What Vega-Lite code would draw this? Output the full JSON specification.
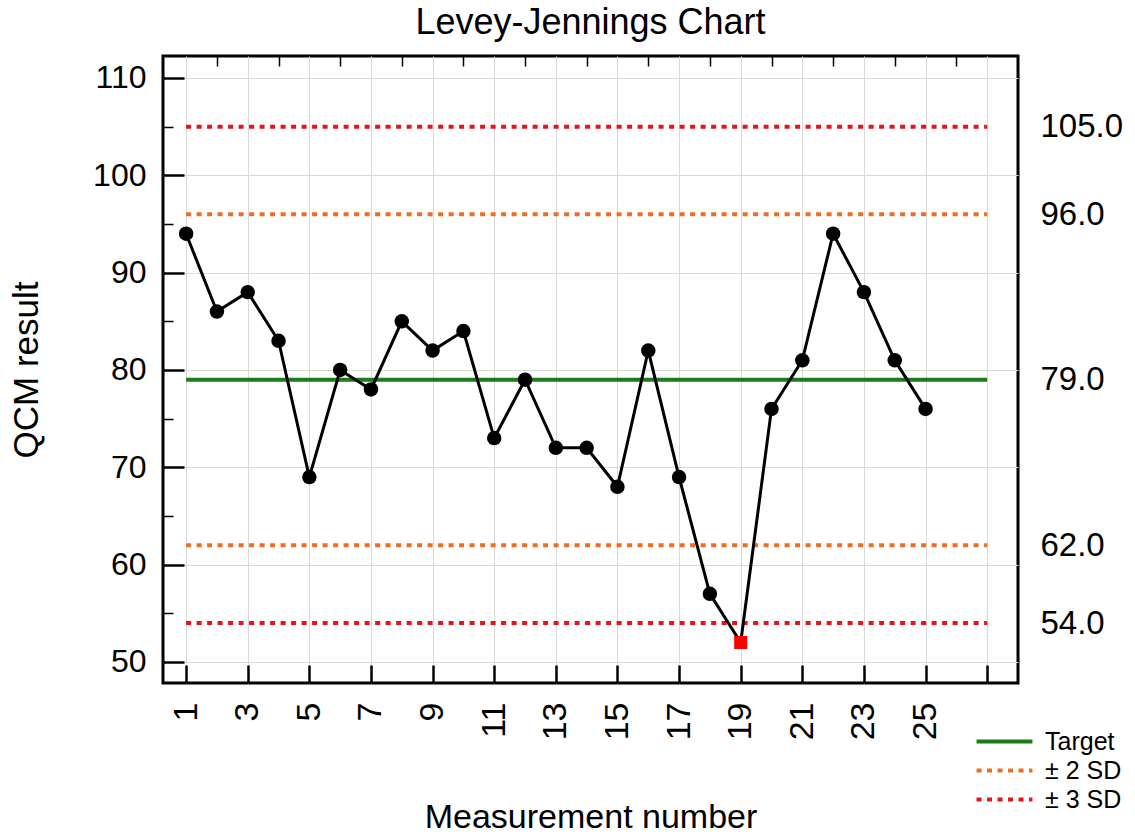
{
  "$schema": "https://vega.github.io/schema/vega-lite/v6.json",
  "width": 855,
  "height": 627,
  "autosize": "none",
  "padding": {"left": 163, "top": 56, "right": 117, "bottom": 154},
  "background": "white",
  "title": {"text": "Levey-Jennings Chart", "fontSize": 36, "fontWeight": "normal", "font": "Liberation Sans", "color": "black", "offset": 13},
  "config": {
    "font": "Liberation Sans",
    "view": {"stroke": "black", "strokeWidth": 3},
    "axis": {"labelColor": "black", "titleColor": "black", "labelFont": "Liberation Sans", "titleFont": "Liberation Sans"}
  },
  "datasets": {
    "qc": [
      {"n": 1, "result": 94}, {"n": 2, "result": 86}, {"n": 3, "result": 88}, {"n": 4, "result": 83},
      {"n": 5, "result": 69}, {"n": 6, "result": 80}, {"n": 7, "result": 78}, {"n": 8, "result": 85},
      {"n": 9, "result": 82}, {"n": 10, "result": 84}, {"n": 11, "result": 73}, {"n": 12, "result": 79},
      {"n": 13, "result": 72}, {"n": 14, "result": 72}, {"n": 15, "result": 68}, {"n": 16, "result": 82},
      {"n": 17, "result": 69}, {"n": 18, "result": 57}, {"n": 19, "result": 52}, {"n": 20, "result": 76},
      {"n": 21, "result": 81}, {"n": 22, "result": 94}, {"n": 23, "result": 88}, {"n": 24, "result": 81},
      {"n": 25, "result": 76}
    ],
    "limits": [
      {"kind": "Target", "value": 79, "x1": 1, "x2": 27},
      {"kind": "± 2 SD", "value": 96, "x1": 1, "x2": 27},
      {"kind": "± 2 SD", "value": 62, "x1": 1, "x2": 27},
      {"kind": "± 3 SD", "value": 105, "x1": 1, "x2": 27},
      {"kind": "± 3 SD", "value": 54, "x1": 1, "x2": 27}
    ]
  },
  "layer": [
    {
      "data": {"name": "limits"},
      "mark": {"type": "rule", "strokeWidth": 4},
      "encoding": {
        "x": {
          "field": "x1", "type": "quantitative",
          "scale": {"domain": [0.25, 28], "nice": false, "zero": false},
          "axis": {
            "values": [1, 3, 5, 7, 9, 11, 13, 15, 17, 19, 21, 23, 25, 27],
            "labelExpr": "datum.value > 25 ? '' : datum.label",
            "labelAngle": -90, "labelFontSize": 34, "labelPadding": 37,
            "tickSize": -18, "tickWidth": 2.5, "tickColor": "black",
            "grid": true, "gridColor": "#d9d9d9", "gridWidth": 1,
            "domain": false,
            "title": "Measurement number", "titleFontSize": 34, "titleFontWeight": "normal", "titlePadding": 61
          }
        },
        "x2": {"field": "x2"},
        "y": {
          "field": "value", "type": "quantitative",
          "scale": {"domain": [47.84, 112.26], "nice": false, "zero": false},
          "axis": {
            "orient": "right",
            "values": [54, 62, 79, 96, 105], "format": ".1f",
            "ticks": false, "grid": false, "domain": false,
            "labelFontSize": 33, "labelPadding": 22, "title": null
          }
        },
        "color": {
          "field": "kind", "type": "nominal",
          "scale": {"domain": ["Target", "± 2 SD", "± 3 SD"], "range": ["#1a7d1a", "#ef6c23", "#e8121b"]},
          "legend": {
            "title": null, "orient": "none", "legendX": 828, "legendY": 672,
            "symbolType": "M-2.5,0H2.5", "symbolSize": 500, "symbolStrokeWidth": 4, "symbolFillColor": "transparent",
            "labelFontSize": 25, "labelOffset": 27, "labelColor": "black", "rowPadding": 2, "padding": 0
          }
        },
        "strokeDash": {
          "field": "kind", "type": "nominal",
          "scale": {"domain": ["Target", "± 2 SD", "± 3 SD"], "range": [[1, 0], [5, 5.5], [5, 5.5]]},
          "legend": null
        }
      }
    },
    {
      "data": {"name": "qc"},
      "mark": {"type": "line", "color": "black", "strokeWidth": 3},
      "encoding": {
        "x": {
          "field": "n", "type": "quantitative",
          "scale": {"domain": [0.25, 28], "nice": false, "zero": false},
          "axis": {
            "values": [2, 4, 6, 8, 10, 12, 14, 16, 18, 20, 22, 24, 26],
            "labels": false, "tickSize": -10, "tickWidth": 1.5, "tickColor": "black",
            "grid": false, "domain": false, "title": null
          }
        },
        "y": {
          "field": "result", "type": "quantitative",
          "scale": {"domain": [47.84, 112.26], "nice": false, "zero": false},
          "axis": {
            "orient": "left",
            "values": [50, 60, 70, 80, 90, 100, 110],
            "labelFontSize": 32, "labelPadding": 38,
            "tickSize": -21, "tickWidth": 2.5, "tickColor": "black",
            "grid": true, "gridColor": "#d9d9d9", "gridWidth": 1, "domain": false,
            "title": "QCM result", "titleFontSize": 35, "titleFontWeight": "normal", "titlePadding": 48
          }
        }
      }
    },
    {
      "data": {"name": "qc"},
      "transform": [{"filter": "datum.result >= 54"}],
      "mark": {"type": "point", "shape": "circle", "filled": true, "color": "black", "size": 210, "opacity": 1},
      "encoding": {
        "x": {"field": "n", "type": "quantitative", "axis": null},
        "y": {
          "field": "result", "type": "quantitative",
          "axis": {
            "orient": "left",
            "values": [55, 65, 75, 85, 95, 105],
            "labels": false, "tickSize": -10, "tickWidth": 1.5, "tickColor": "black",
            "grid": false, "domain": false, "title": null
          }
        }
      }
    },
    {
      "data": {"name": "qc"},
      "transform": [{"filter": "datum.result < 54"}],
      "mark": {"type": "point", "shape": "square", "filled": true, "color": "#ff0000", "size": 170, "opacity": 1},
      "encoding": {
        "x": {"field": "n", "type": "quantitative", "axis": null},
        "y": {"field": "result", "type": "quantitative", "axis": null}
      }
    }
  ],
  "resolve": {"axis": {"x": "independent", "y": "independent"}}
}
